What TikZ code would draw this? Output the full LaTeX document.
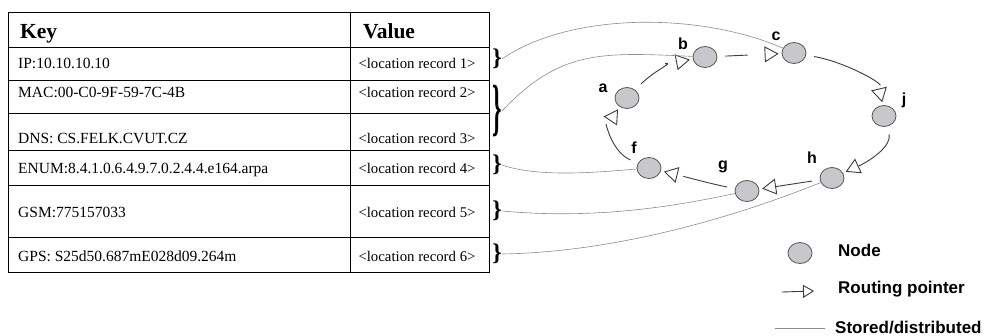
\documentclass[tikz,border=0pt]{standalone}
\usepackage{fontspec}
\setmainfont{Liberation Serif}
\newfontfamily\legendfont{Liberation Sans}
\usetikzlibrary{positioning,calc,shapes.geometric,arrows.meta,decorations.markings}
\definecolor{nodefill}{RGB}{200,200,204}
\definecolor{nodeline}{RGB}{85,85,85}
\definecolor{ptrline}{RGB}{60,60,60}
\definecolor{storeline}{RGB}{140,140,140}
\tikzset{peer/.style={ellipse,draw=nodeline,fill=nodefill,line width=0.8pt,minimum width=24pt,minimum height=21pt,inner sep=0pt},
         peername/.style={font=\legendfont\bfseries\fontsize{16}{16}\selectfont,inner sep=0pt},
         legtext/.style={font=\legendfont\bfseries\fontsize{17}{17}\selectfont,anchor=base west,inner sep=0pt},
         cell/.style={font=\fontsize{15.5}{16}\selectfont,anchor=base west,inner sep=0pt},
         rec/.style={font=\fontsize{14.8}{15}\selectfont,anchor=base,inner sep=0pt},
         hdr/.style={font=\bfseries\fontsize{21.5}{22}\selectfont,anchor=base west,inner sep=0pt},
         brc/.style={font=\bfseries\fontsize{24}{24}\selectfont,inner sep=0pt},
         stored/.style={draw=storeline,line width=0.6pt},
         % the line stops #1 short of the node, the open triangle sits 3pt off it
         pointer/.style={draw,color=ptrline,line width=0.9pt,shorten <=8pt,shorten >=#1,
             postaction={decorate},
             decoration={markings,mark=at position -3pt with {\arrow{Triangle[open,length=14pt,width=16pt]}}}},
         pointer/.default=17pt
}

\begin{document}
\begin{tikzpicture}[x=1pt,y=-1pt]
\useasboundingbox (0,0) rectangle (992,335);

\draw[line width=0.9pt] (8,12) rectangle (489,272);
\draw[line width=0.9pt] (350,12) -- (350,272);
\foreach \y in {47,80,113,150,185,237}
  \draw[line width=0.9pt] (8,\y) -- (489,\y);

\node[hdr] (key) at (20,38) {Key};
\node[hdr] (value) at (363,38) {Value};
\foreach \n/\y/\k in {1/68/IP:10.10.10.10, 2/97/MAC:00-C0-9F-59-7C-4B, 3/143/DNS: CS.FELK.CVUT.CZ,
    4/173/ENUM:8.4.1.0.6.4.9.7.0.2.4.4.e164.arpa, 5/217/GSM:775157033, 6/261/GPS: S25d50.687mE028d09.264m}{
  \node[cell] (key\n) at (18,\y) {\k};
  \node[rec] (rec\n) at (417,\y) {<location record \n>};
}

\node[brc] (br1) at (497,59) {\}};
\node[brc] (br2) at (497,111) {\scalebox{1}[2.6]{\}}};
\node[brc] (br3) at (497,165) {\}};
\node[brc] (br4) at (497,211) {\}};
\node[brc] (br5) at (497,254) {\}};

\node[peer] (a) at (627,98) {};
\node[peer] (b) at (705,57) {};
\node[peer] (c) at (794,53) {};
\node[peer] (j) at (884,116) {};
\node[peer] (h) at (832,178) {};
\node[peer] (g) at (747,191) {};
\node[peer] (f) at (649,168) {};
\node[peername] (la) at (603,88) {a};
\node[peername] (lb) at (683,44) {b};
\node[peername] (lc) at (776,36) {c};
\node[peername] (lj) at (904,100) {j};
\node[peername] (lh) at (812,158) {h};
\node[peername] (lg) at (723,167) {g};
\node[peername] (lf) at (634,148) {f};

\draw[pointer=28pt] (a) .. controls (655,70) and (675,62) .. (b);
\draw[pointer=34pt] (b) -- (c);
\draw[pointer=20pt] (c) .. controls (845,62) and (880,82) .. (j);
\draw[pointer] (j) .. controls (892,145) and (872,160) .. (h);
\draw[pointer] (h) -- (g);
\draw[pointer=23pt] (g) .. controls (712,184) and (690,178) .. (f);
\draw[pointer=22pt] (f) .. controls (612,152) and (606,124) .. (a);

\draw[stored] (br1.east) .. controls (570,12) and (700,12) .. (c);
\draw[stored] (br2.east) .. controls (560,50) and (600,52) .. (b);
\draw[stored] (br3.east) .. controls (540,178) and (600,172) .. (f);
\draw[stored] (br4.east) .. controls (600,220) and (680,205) .. (g);
\draw[stored] (br5.east) .. controls (620,252) and (740,215) .. (h);

\node[peer] (legpeer) at (800,253) {};
\node[legtext] (legpeertext) at (838,256) {Node};
\coordinate (legptrA) at (782,292);
\coordinate (legptrB) at (814,291);
\draw[color=ptrline,line width=0.9pt,-{Triangle[open,length=11pt,width=13pt]}] (legptrA) -- (legptrB);
\node[legtext] (legptrtext) at (838,293) {Routing pointer};
\coordinate (legstoreA) at (775,328);
\coordinate (legstoreB) at (825,328);
\draw[stored] (legstoreA) -- (legstoreB);
\node[legtext] (legstoretext) at (835,333) {Stored/distributed};
\end{tikzpicture}
\end{document}
